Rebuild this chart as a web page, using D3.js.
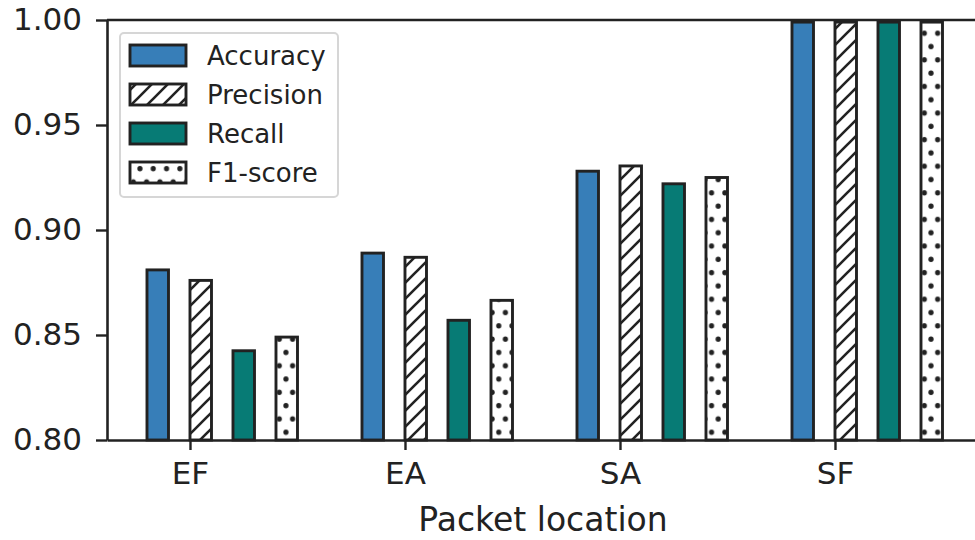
<!DOCTYPE html>
<html>
<head>
<meta charset="utf-8">
<script src="https://cdn.jsdelivr.net/npm/d3@7"></script>
<style>
  body { margin: 0; background: #fff; }
  svg { display: block; font-family: "DejaVu Sans", sans-serif; }
</style>
</head>
<body>
<div id="chart"></div>
<script>
// data
const locations = ["EF", "EA", "SA", "SF"];
const metrics = ["Accuracy", "Precision", "Recall", "F1-score"];
const accuracy = [0.881, 0.889, 0.928, 0.999];
const precision = [0.876, 0.887, 0.9305, 0.999];
const recall = [0.8425, 0.857, 0.922, 0.999];
const f1score = [0.849, 0.8665, 0.925, 0.999];
const yTicks = [0.80, 0.85, 0.90, 0.95, 1.00];

const series = [accuracy, precision, recall, f1score];

const width = 975, height = 540;
const margin = { top: 20, left: 107, right: 979, bottom: 100 };
const ink = "#222";

const svg = d3.select("#chart").append("svg")
    .attr("width", width)
    .attr("height", height);

// patterns for hatched bars
const defs = svg.append("defs");
const hatch = defs.append("pattern")
    .attr("id", "hatch")
    .attr("patternUnits", "userSpaceOnUse")
    .attr("width", 16).attr("height", 16);
hatch.append("rect").attr("width", 16).attr("height", 16).attr("fill", "#fff");
hatch.append("path")
    .attr("d", "M0,16L16,0M-4,4L4,-4M12,20L20,12")
    .attr("stroke", ink).attr("stroke-width", 2.6);

const dots = defs.append("pattern")
    .attr("id", "dots")
    .attr("patternUnits", "userSpaceOnUse")
    .attr("width", 13.3).attr("height", 26.6);
dots.append("rect").attr("width", 13.3).attr("height", 26.6).attr("fill", "#fff");
[[6.65, 6.65], [0, 19.95], [13.3, 19.95]].forEach(([cx, cy]) => {
    dots.append("circle").attr("cx", cx).attr("cy", cy).attr("r", 2.6).attr("fill", ink);
});

const fills = ["#377eb8", "url(#hatch)", "#077b75", "url(#dots)"];
const offsets = [-0.15, 0.05, 0.25, 0.45];
const barW = 0.1;

// scales (x in group units, 0 = EF, 215px per group)
const x = d3.scaleLinear()
    .domain([-0.386, 3.67])
    .range([margin.left, margin.left + 4.056 * 215]);

const y = d3.scaleLinear()
    .domain([0.8, 1.0])
    .range([height - margin.bottom, margin.top]);

// bars
series.forEach((vals, i) => {
    svg.append("g").selectAll("rect")
        .data(vals)
        .enter()
        .append("rect")
        .attr("x", (d, j) => x(j + offsets[i] - barW / 2))
        .attr("width", x(barW) - x(0))
        .attr("y", d => y(d))
        .attr("height", d => y(0.8) - y(d))
        .attr("fill", fills[i])
        .attr("stroke", ink)
        .attr("stroke-width", 2.9);
});

// axes
const yAxis = svg.append("g")
    .attr("transform", `translate(${margin.left},0)`)
    .call(d3.axisLeft(y).tickValues(yTicks).tickFormat(d3.format(".2f"))
        .tickSize(11).tickSizeOuter(0).tickPadding(14));

const xAxis = svg.append("g")
    .attr("transform", `translate(0,${y(0.8)})`)
    .call(d3.axisBottom(x).tickValues([0, 1, 2, 3]).tickFormat(d => locations[d])
        .tickSize(10).tickSizeOuter(0).tickPadding(12));

[yAxis, xAxis].forEach(g => {
    g.select(".domain").attr("stroke", ink).attr("stroke-width", 2.6);
    g.selectAll(".tick line").attr("stroke", ink).attr("stroke-width", 2.4);
    g.selectAll(".tick text")
        .attr("fill", ink)
        .style("font-size", "31px")
        .style("font-family", "DejaVu Sans");
});

// top spine
svg.append("line")
    .attr("x1", margin.left).attr("x2", width)
    .attr("y1", y(1.0)).attr("y2", y(1.0))
    .attr("stroke", ink).attr("stroke-width", 2.6);

// axis label, centred on the axes box
svg.append("text")
    .attr("x", d3.mean(x.range()))
    .attr("y", 531)
    .attr("text-anchor", "middle")
    .attr("fill", ink)
    .style("font-size", "33px")
    .text("Packet location");

// legend
const legend = svg.append("g").attr("transform", "translate(120,33)");
legend.append("rect")
    .attr("width", 218).attr("height", 164)
    .attr("rx", 4)
    .attr("fill", "#fff").attr("fill-opacity", 0.8)
    .attr("stroke", "#d6d6d6").attr("stroke-width", 2);

metrics.forEach((m, i) => {
    const row = legend.append("g").attr("transform", `translate(0,${12 + i * 39})`);
    row.append("rect")
        .attr("x", 10).attr("width", 56).attr("height", 21)
        .attr("fill", fills[i])
        .attr("stroke", ink).attr("stroke-width", 2.9);
    row.append("text")
        .attr("x", 87).attr("y", 20)
        .attr("fill", ink)
        .style("font-size", "26px")
        .text(m);
});
</script>
</body>
</html>
